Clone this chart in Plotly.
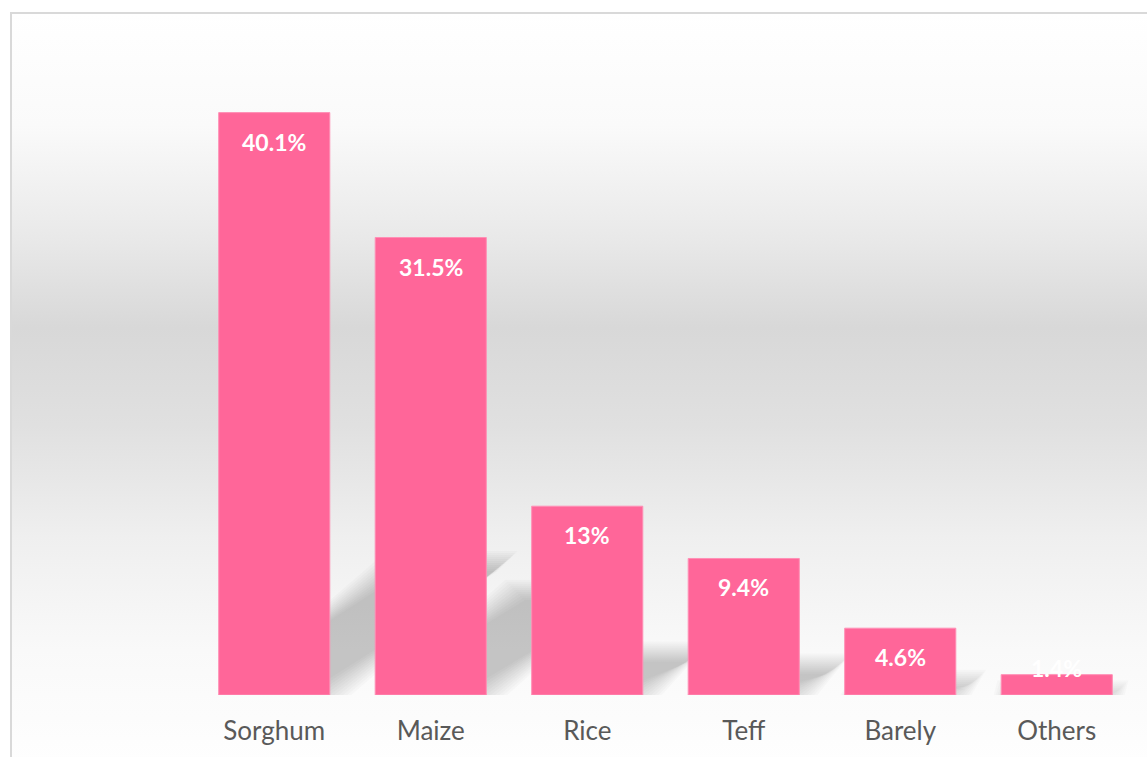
import base64
import plotly.graph_objects as go

# Share of cereal production by crop (%)
categories = ["Sorghum", "Maize", "Rice", "Teff", "Barely", "Others"]
shares = [40.1, 31.5, 13, 9.4, 4.6, 1.4]

# Canvas and plot-area geometry (px)
W, H = 1147, 757
M = dict(l=196, r=12, t=40, b=62)
plot_w = W - M["l"] - M["r"]
plot_h = H - M["t"] - M["b"]
Y_MAX = 45.1
BAR_W = 0.71
px_y = plot_h / Y_MAX              # px per percentage point
px_x = plot_w / len(categories)    # px per category slot

BAR_COLOR = "#FF6699"
TEXT_FONT = "Lato"


def paper_x(px):
    return (px - M["l"]) / plot_w


def paper_y(py):
    # py measured from the top of the canvas
    return (H - M["b"] - py) / plot_h


x = list(range(len(categories)))

fig = go.Figure()

fig.add_trace(go.Bar(
    x=x, y=shares, width=BAR_W,
    marker=dict(color=BAR_COLOR, line=dict(color="#ff8fb5", width=1)),
    hoverinfo="skip",
))

# Background gradient: white at the top, light grey band, back to white at the bottom
grad = [(0.0, 255), (0.15, 250), (0.30, 233), (0.42, 216), (0.55, 224),
        (0.70, 239), (0.85, 249), (1.0, 254)]
stops = "".join(
    f'<stop offset="{o}" stop-color="rgb({g},{g},{g})"/>' for o, g in grad
)
svg = (
    '<svg xmlns="http://www.w3.org/2000/svg" width="100" height="100" '
    'viewBox="0 0 100 100" preserveAspectRatio="none">'
    '<defs><linearGradient id="g" x1="0" y1="0" x2="0" y2="1">'
    + stops +
    '</linearGradient></defs>'
    '<rect width="100" height="100" fill="url(#g)"/></svg>'
)
src = "data:image/svg+xml;base64," + base64.b64encode(svg.encode()).decode()
fig.add_layout_image(dict(
    source=src, xref="paper", yref="paper",
    x=paper_x(11), y=paper_y(13),
    sizex=paper_x(W + 5) - paper_x(11), sizey=paper_y(13) - paper_y(H + 5),
    xanchor="left", yanchor="top", sizing="stretch", layer="below",
))

shapes = []
# Chart box outline
shapes.append(dict(
    type="rect", xref="paper", yref="paper", layer="below",
    x0=paper_x(11), x1=paper_x(W + 20), y0=paper_y(H + 20), y1=paper_y(13),
    line=dict(color="#d9d9d9", width=2), fillcolor="rgba(0,0,0,0)",
))

# Perspective shadows cast up and to the right of each bar (soft edges via stacked layers)
SH_SCALE = 0.23
SH_SKEW = 1.33
for i, v in zip(x, shares):
    h = SH_SCALE * v
    dx = SH_SKEW * h * px_y / px_x
    for s in range(-10, 11, 2):
        sx = s / px_x
        sy = s / px_y
        x0 = i - BAR_W / 2 - sx
        x1 = i + BAR_W / 2 + sx
        top = max(h + sy, 0.05)
        path = (f"M{x0},{-sy} L{x1},{-sy} L{x1 + dx},{top} "
                f"L{x0 + dx},{top} Z")
        shapes.append(dict(
            type="path", xref="x", yref="y", layer="below", path=path,
            fillcolor="rgba(0,0,0,0.018)", line=dict(width=0),
        ))

# Value labels near the top of each bar
annotations = []
for i, v in zip(x, shares):
    y_lab = max(v - 29 / px_y, 27 / px_y)
    annotations.append(dict(
        x=i, y=y_lab, xref="x", yref="y", text=f"<b>{v:g}%</b>",
        showarrow=False, yanchor="middle", xanchor="center",
        font=dict(family=TEXT_FONT, size=23, color="#ffffff"),
    ))

fig.update_layout(
    width=W, height=H,
    margin=dict(l=M["l"], r=M["r"], t=M["t"], b=M["b"], pad=0),
    paper_bgcolor="#ffffff",
    plot_bgcolor="rgba(0,0,0,0)",
    showlegend=False,
    shapes=shapes,
    annotations=annotations,
    xaxis=dict(
        range=[-0.5, len(categories) - 0.5],
        tickvals=x, ticktext=categories,
        showgrid=False, zeroline=False, showline=False, ticks="",
        tickfont=dict(family=TEXT_FONT, size=26, color="#595959"),
        ticklabelstandoff=18,
        fixedrange=True,
    ),
    yaxis=dict(range=[0, Y_MAX], visible=False, fixedrange=True),
)

fig.write_html("out.html")
